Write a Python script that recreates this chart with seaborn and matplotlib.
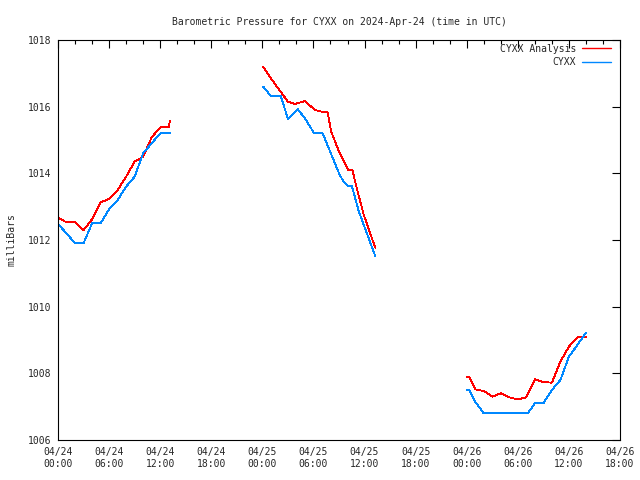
import pandas as pd
import numpy as np
import matplotlib
matplotlib.use('Agg')
import matplotlib.pyplot as plt
import matplotlib.dates as mdates
from matplotlib.ticker import MultipleLocator
import seaborn as sns

# CYXX Analysis (red), three runs
ana_times_1 = ['2024-04-24 00:00', '2024-04-24 01:00', '2024-04-24 02:00', '2024-04-24 03:00',
               '2024-04-24 04:00', '2024-04-24 05:00', '2024-04-24 06:00', '2024-04-24 07:00',
               '2024-04-24 08:00', '2024-04-24 09:00', '2024-04-24 10:00', '2024-04-24 11:00',
               '2024-04-24 12:00', '2024-04-24 13:00', '2024-04-24 13:09']
ana_vals_1 = [1012.67, 1012.53, 1012.53, 1012.30, 1012.62, 1013.13, 1013.23, 1013.50,
              1013.90, 1014.35, 1014.50, 1015.08, 1015.38, 1015.38, 1015.57]

ana_times_2 = ['2024-04-25 00:06', '2024-04-25 01:00', '2024-04-25 02:00', '2024-04-25 03:00',
               '2024-04-25 03:50', '2024-04-25 05:00', '2024-04-25 06:10', '2024-04-25 07:00',
               '2024-04-25 07:40', '2024-04-25 08:05', '2024-04-25 09:05', '2024-04-25 10:05',
               '2024-04-25 10:35', '2024-04-25 11:05', '2024-04-25 11:55', '2024-04-25 13:15']
ana_vals_2 = [1017.20, 1016.85, 1016.50, 1016.15, 1016.08, 1016.17, 1015.90, 1015.85,
              1015.83, 1015.25, 1014.60, 1014.10, 1014.10, 1013.55, 1012.75, 1011.77]

ana_times_3 = ['2024-04-26 00:00', '2024-04-26 00:18', '2024-04-26 01:00', '2024-04-26 02:00',
               '2024-04-26 03:00', '2024-04-26 04:00', '2024-04-26 05:00', '2024-04-26 06:00',
               '2024-04-26 07:00', '2024-04-26 08:00', '2024-04-26 09:00', '2024-04-26 10:00',
               '2024-04-26 11:00', '2024-04-26 12:00', '2024-04-26 13:00', '2024-04-26 14:00']
ana_vals_3 = [1007.88, 1007.88, 1007.52, 1007.47, 1007.30, 1007.40, 1007.28, 1007.22,
              1007.28, 1007.82, 1007.74, 1007.72, 1008.35, 1008.80, 1009.08, 1009.08]

# CYXX observations (blue)
obs_times_1 = ['2024-04-24 00:00', '2024-04-24 01:00', '2024-04-24 02:00', '2024-04-24 03:00',
               '2024-04-24 04:00', '2024-04-24 05:00', '2024-04-24 06:00', '2024-04-24 07:00',
               '2024-04-24 08:00', '2024-04-24 09:00', '2024-04-24 10:00', '2024-04-24 11:00',
               '2024-04-24 12:00', '2024-04-24 13:09']
obs_vals_1 = [1012.48, 1012.20, 1011.90, 1011.90, 1012.50, 1012.50, 1012.92, 1013.20,
              1013.60, 1013.90, 1014.60, 1014.90, 1015.20, 1015.20]

obs_times_2 = ['2024-04-25 00:06', '2024-04-25 01:00', '2024-04-25 02:10', '2024-04-25 03:00',
               '2024-04-25 04:10', '2024-04-25 05:00', '2024-04-25 06:05', '2024-04-25 07:05',
               '2024-04-25 09:05', '2024-04-25 09:30', '2024-04-25 10:00', '2024-04-25 10:30',
               '2024-04-25 11:20', '2024-04-25 13:15']
obs_vals_2 = [1016.60, 1016.32, 1016.32, 1015.63, 1015.92, 1015.65, 1015.20, 1015.20,
              1013.95, 1013.77, 1013.63, 1013.63, 1012.85, 1011.52]

obs_times_3 = ['2024-04-26 00:00', '2024-04-26 00:18', '2024-04-26 01:00', '2024-04-26 02:00',
               '2024-04-26 07:10', '2024-04-26 08:00', '2024-04-26 09:00', '2024-04-26 10:00',
               '2024-04-26 11:00', '2024-04-26 12:00', '2024-04-26 13:00', '2024-04-26 14:00']
obs_vals_3 = [1007.50, 1007.50, 1007.15, 1006.80, 1006.80, 1007.10, 1007.10, 1007.50,
              1007.80, 1008.50, 1008.85, 1009.22]

frames = []
for name, runs in [('CYXX Analysis', [(ana_times_1, ana_vals_1), (ana_times_2, ana_vals_2), (ana_times_3, ana_vals_3)]),
                   ('CYXX', [(obs_times_1, obs_vals_1), (obs_times_2, obs_vals_2), (obs_times_3, obs_vals_3)])]:
    for i, (t, v) in enumerate(runs):
        frames.append(pd.DataFrame({'time': pd.to_datetime(t), 'pressure': v,
                                    'series': name, 'run': i}))
df = pd.concat(frames, ignore_index=True)

sns.set_style('white')
plt.rcParams['font.family'] = ['DejaVu Sans Mono']

fig = plt.figure(figsize=(6.4, 4.8), dpi=100)
ax = fig.add_axes([58 / 640, 40 / 480, 562 / 640, 400 / 480])

palette = {'CYXX Analysis': '#ff0000', 'CYXX': '#0088ff'}
sns.lineplot(data=df, x='time', y='pressure', hue='series', units='run', estimator=None,
             palette=palette, linewidth=0.6, ax=ax, legend=True)
for ln in ax.get_lines():
    ln.set_antialiased(False)

ax.set_xlim(pd.Timestamp('2024-04-24 00:00'), pd.Timestamp('2024-04-26 18:00'))
ax.set_ylim(1006, 1018)
ax.yaxis.set_major_locator(MultipleLocator(2))
ax.xaxis.set_major_locator(mdates.HourLocator(byhour=[0, 6, 12, 18]))
ax.xaxis.set_minor_locator(mdates.HourLocator(byhour=range(0, 24, 2)))
ax.xaxis.set_major_formatter(mdates.DateFormatter('%m/%d\n%H:%M'))

ax.tick_params(axis='both', which='both', direction='in', top=True, right=True,
               labelsize=7, color='black', width=0.8)
ax.tick_params(which='major', length=6, pad=5)
ax.tick_params(which='minor', length=3)
for s in ax.spines.values():
    s.set_color('black')
    s.set_linewidth(0.8)

ax.set_xlabel('')
ax.set_ylabel('milliBars', fontsize=7, labelpad=8)
ax.set_title('Barometric Pressure for CYXX on 2024-Apr-24 (time in UTC)', fontsize=7, pad=11)

handles, labels = ax.get_legend_handles_labels()
leg = ax.legend(handles, labels, loc='upper right', frameon=False, markerfirst=False,
                fontsize=7, handlelength=3.0, handletextpad=0.6, labelspacing=0.35,
                borderaxespad=0, bbox_to_anchor=(1 - 5 / 562, 1.0))
for h, lab in zip(leg.get_lines(), labels):
    h.set_color(palette[lab])
    h.set_linewidth(1.0)

fig.savefig('out.png', dpi=100)
